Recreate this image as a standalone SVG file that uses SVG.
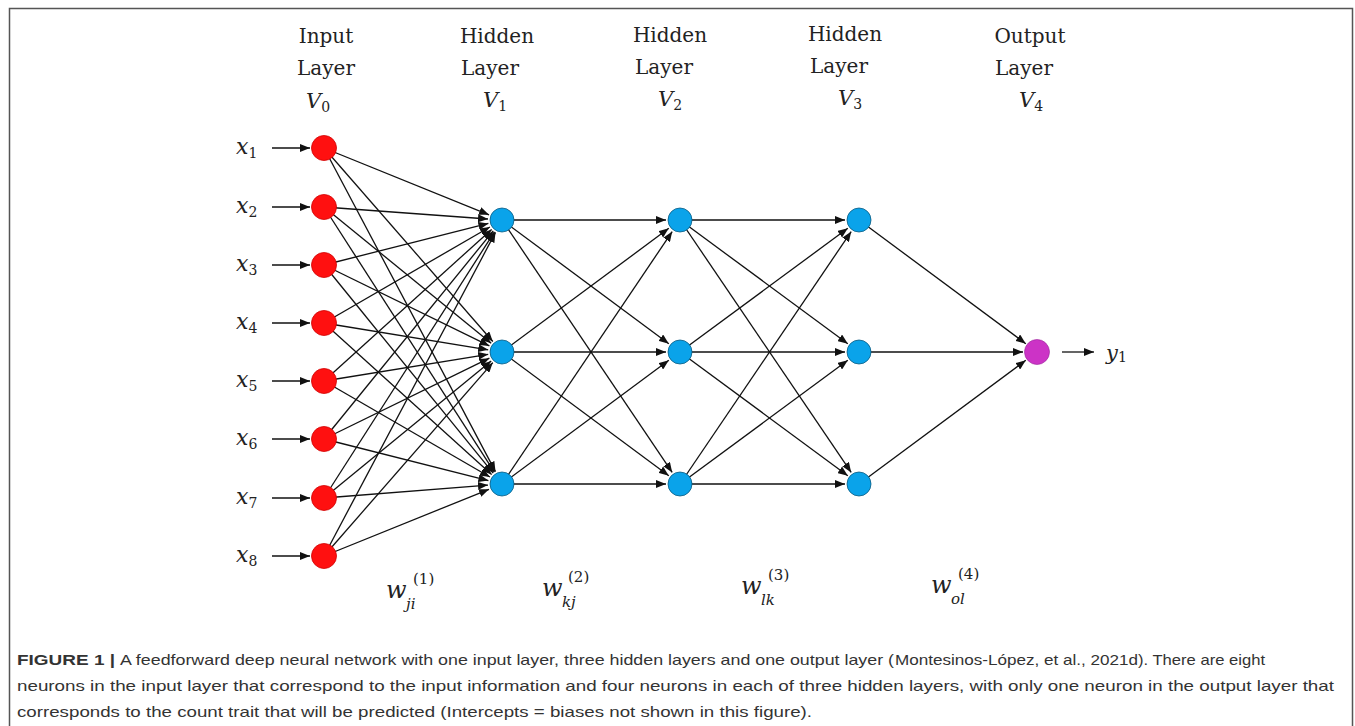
<svg xmlns="http://www.w3.org/2000/svg" width="1355" height="726" viewBox="0 0 1355 726">
<style>
.hd{font-family:"DejaVu Serif","Liberation Serif",serif;font-size:20px;fill:#222;text-anchor:middle}
.mi{font-family:"DejaVu Serif","Liberation Serif",serif;font-style:italic;fill:#222}
.sb{font-family:"DejaVu Serif","Liberation Serif",serif;fill:#222}
.cn line{stroke:#111;stroke-width:1.3;marker-end:url(#ah)}
.in{fill:#ff1010;stroke:#d00000;stroke-width:0.8}
.hi{fill:#0aa3ea;stroke:#0a5a80;stroke-width:0.8}
.out{fill:#cc33c6;stroke:#992299;stroke-width:0.6}
.cap{font-family:"Liberation Sans","Arial",sans-serif;font-size:15px;fill:#333}
</style>
<defs>
<marker id="ah" markerUnits="userSpaceOnUse" markerWidth="10" markerHeight="8" refX="10" refY="4" orient="auto">
<path d="M0,0 L10,4 L0,8 z" fill="#111"/>
</marker>
</defs>
<rect width="1355" height="726" fill="#fff"/>
<path d="M9.5,726 V8.5 H1352.5 V726" fill="none" stroke="#555" stroke-width="1.5"/>

<g id="headers">
<text class="hd" x="326" y="43">Input</text>
<text class="hd" x="326" y="75">Layer</text>
<text x="306" y="108"><tspan class="mi" font-size="21">V</tspan><tspan class="sb" font-size="14" dy="4">0</tspan></text>
<text class="hd" x="497" y="43">Hidden</text>
<text class="hd" x="490" y="75">Layer</text>
<text x="483" y="107"><tspan class="mi" font-size="21">V</tspan><tspan class="sb" font-size="14" dy="4">1</tspan></text>
<text class="hd" x="670" y="42">Hidden</text>
<text class="hd" x="664" y="74">Layer</text>
<text x="658" y="106"><tspan class="mi" font-size="21">V</tspan><tspan class="sb" font-size="14" dy="4">2</tspan></text>
<text class="hd" x="845" y="41">Hidden</text>
<text class="hd" x="839" y="73">Layer</text>
<text x="838" y="105"><tspan class="mi" font-size="21">V</tspan><tspan class="sb" font-size="14" dy="4">3</tspan></text>
<text class="hd" x="1030" y="43">Output</text>
<text class="hd" x="1024" y="75">Layer</text>
<text x="1019" y="107"><tspan class="mi" font-size="21">V</tspan><tspan class="sb" font-size="14" dy="4">4</tspan></text>
</g>

<g id="connectors" class="cn">
<line x1="272" y1="148" x2="310" y2="148"/>
<line x1="272" y1="207" x2="310" y2="207"/>
<line x1="272" y1="265" x2="310" y2="265"/>
<line x1="272" y1="323" x2="310" y2="323"/>
<line x1="272" y1="381" x2="310" y2="381"/>
<line x1="272" y1="439" x2="310" y2="439"/>
<line x1="272" y1="498" x2="310" y2="498"/>
<line x1="272" y1="556" x2="310" y2="556"/>

<line x1="324" y1="148" x2="489.0" y2="214.8"/>
<line x1="324" y1="207" x2="488.0" y2="219.0"/>
<line x1="324" y1="265" x2="488.4" y2="223.4"/>
<line x1="324" y1="323" x2="489.9" y2="227.0"/>
<line x1="324" y1="381" x2="491.6" y2="229.4"/>
<line x1="324" y1="439" x2="493.2" y2="230.9"/>
<line x1="324" y1="498" x2="494.5" y2="231.8"/>
<line x1="324" y1="556" x2="495.5" y2="232.4"/>

<line x1="324" y1="148" x2="492.8" y2="341.5"/>
<line x1="324" y1="207" x2="491.2" y2="343.2"/>
<line x1="324" y1="265" x2="489.4" y2="345.9"/>
<line x1="324" y1="323" x2="488.2" y2="349.8"/>
<line x1="324" y1="381" x2="488.2" y2="354.3"/>
<line x1="324" y1="439" x2="489.4" y2="358.2"/>
<line x1="324" y1="498" x2="491.2" y2="360.9"/>
<line x1="324" y1="556" x2="492.8" y2="362.6"/>

<line x1="324" y1="148" x2="495.5" y2="471.6"/>
<line x1="324" y1="207" x2="494.4" y2="472.2"/>
<line x1="324" y1="265" x2="493.2" y2="473.1"/>
<line x1="324" y1="323" x2="491.6" y2="474.6"/>
<line x1="324" y1="381" x2="489.9" y2="477.0"/>
<line x1="324" y1="439" x2="488.4" y2="480.6"/>
<line x1="324" y1="498" x2="488.0" y2="485.1"/>
<line x1="324" y1="556" x2="489.0" y2="489.3"/>

<line x1="502" y1="220" x2="666" y2="220"/>
<line x1="502" y1="220" x2="668.8" y2="343.7"/>
<line x1="502" y1="220" x2="672.2" y2="472.4"/>
<line x1="502" y1="352" x2="668.8" y2="228.3"/>
<line x1="502" y1="352" x2="666" y2="352"/>
<line x1="502" y1="352" x2="668.8" y2="475.7"/>
<line x1="502" y1="484" x2="672.2" y2="231.6"/>
<line x1="502" y1="484" x2="668.8" y2="360.3"/>
<line x1="502" y1="484" x2="666" y2="484"/>

<line x1="680" y1="220" x2="845" y2="220"/>
<line x1="680" y1="220" x2="847.8" y2="343.7"/>
<line x1="680" y1="220" x2="851.2" y2="472.4"/>
<line x1="680" y1="352" x2="847.8" y2="228.3"/>
<line x1="680" y1="352" x2="845" y2="352"/>
<line x1="680" y1="352" x2="847.8" y2="475.7"/>
<line x1="680" y1="484" x2="851.2" y2="231.6"/>
<line x1="680" y1="484" x2="847.8" y2="360.3"/>
<line x1="680" y1="484" x2="845" y2="484"/>

<line x1="859" y1="220" x2="1025.8" y2="343.7"/>
<line x1="859" y1="352" x2="1023" y2="352"/>
<line x1="859" y1="484" x2="1025.8" y2="360.3"/>

<line x1="1062" y1="352" x2="1094" y2="352"/>
</g>

<g id="input-labels">
<text x="236" y="154"><tspan class="mi" font-size="22">x</tspan><tspan class="sb" font-size="14" dy="4">1</tspan></text>
<text x="236" y="213"><tspan class="mi" font-size="22">x</tspan><tspan class="sb" font-size="14" dy="4">2</tspan></text>
<text x="236" y="271"><tspan class="mi" font-size="22">x</tspan><tspan class="sb" font-size="14" dy="4">3</tspan></text>
<text x="236" y="329"><tspan class="mi" font-size="22">x</tspan><tspan class="sb" font-size="14" dy="4">4</tspan></text>
<text x="236" y="387"><tspan class="mi" font-size="22">x</tspan><tspan class="sb" font-size="14" dy="4">5</tspan></text>
<text x="236" y="445"><tspan class="mi" font-size="22">x</tspan><tspan class="sb" font-size="14" dy="4">6</tspan></text>
<text x="236" y="504"><tspan class="mi" font-size="22">x</tspan><tspan class="sb" font-size="14" dy="4">7</tspan></text>
<text x="236" y="562"><tspan class="mi" font-size="22">x</tspan><tspan class="sb" font-size="14" dy="4">8</tspan></text>
</g>

<g id="input-layer">
<circle id="i1" class="in" cx="324" cy="148" r="12.5"/>
<circle id="i2" class="in" cx="324" cy="207" r="12.5"/>
<circle id="i3" class="in" cx="324" cy="265" r="12.5"/>
<circle id="i4" class="in" cx="324" cy="323" r="12.5"/>
<circle id="i5" class="in" cx="324" cy="381" r="12.5"/>
<circle id="i6" class="in" cx="324" cy="439" r="12.5"/>
<circle id="i7" class="in" cx="324" cy="498" r="12.5"/>
<circle id="i8" class="in" cx="324" cy="556" r="12.5"/>
</g>
<g id="hidden-1">
<circle id="h11" class="hi" cx="502" cy="220" r="12"/>
<circle id="h12" class="hi" cx="502" cy="352" r="12"/>
<circle id="h13" class="hi" cx="502" cy="484" r="12"/>
</g>
<g id="hidden-2">
<circle id="h21" class="hi" cx="680" cy="220" r="12"/>
<circle id="h22" class="hi" cx="680" cy="352" r="12"/>
<circle id="h23" class="hi" cx="680" cy="484" r="12"/>
</g>
<g id="hidden-3">
<circle id="h31" class="hi" cx="859" cy="220" r="12"/>
<circle id="h32" class="hi" cx="859" cy="352" r="12"/>
<circle id="h33" class="hi" cx="859" cy="484" r="12"/>
</g>
<g id="output">
<circle id="o1" class="out" cx="1037" cy="352" r="12.5"/>
<text x="1106" y="360"><tspan class="mi" font-size="21">y</tspan><tspan class="sb" font-size="14" dy="2">1</tspan></text>
</g>

<g id="weights">
<text class="mi" x="386" y="598" font-size="24">w</text>
<text class="sb" x="413" y="584" font-size="15">(1)</text>
<text class="mi" x="406" y="609" font-size="15">ji</text>
<text class="mi" x="542" y="596" font-size="24">w</text>
<text class="sb" x="568" y="582" font-size="15">(2)</text>
<text class="mi" x="562" y="607" font-size="15">kj</text>
<text class="mi" x="741" y="594" font-size="24">w</text>
<text class="sb" x="768" y="580" font-size="15">(3)</text>
<text class="mi" x="761" y="605" font-size="15">lk</text>
<text class="mi" x="931" y="593" font-size="24">w</text>
<text class="sb" x="958" y="579" font-size="15">(4)</text>
<text class="mi" x="951" y="604" font-size="15">ol</text>
</g>

<g id="caption">
<text class="cap" x="17" y="665" font-weight="bold" fill="#222" textLength="98" lengthAdjust="spacingAndGlyphs">FIGURE 1 |</text>
<text class="cap" x="120" y="665" textLength="774" lengthAdjust="spacingAndGlyphs">A feedforward deep neural network with one input layer, three hidden layers and one output layer (</text>
<text class="cap" x="895" y="665" fill="#9a9a9a" textLength="243" lengthAdjust="spacingAndGlyphs">Montesinos-López, et al., 2021d</text>
<text class="cap" x="1138" y="665" textLength="127" lengthAdjust="spacingAndGlyphs">). There are eight</text>
<text class="cap" x="17" y="691" textLength="1317" lengthAdjust="spacingAndGlyphs">neurons in the input layer that correspond to the input information and four neurons in each of three hidden layers, with only one neuron in the output layer that</text>
<text class="cap" x="17" y="717" textLength="795" lengthAdjust="spacingAndGlyphs">corresponds to the count trait that will be predicted (Intercepts = biases not shown in this figure).</text>
</g>
</svg>
